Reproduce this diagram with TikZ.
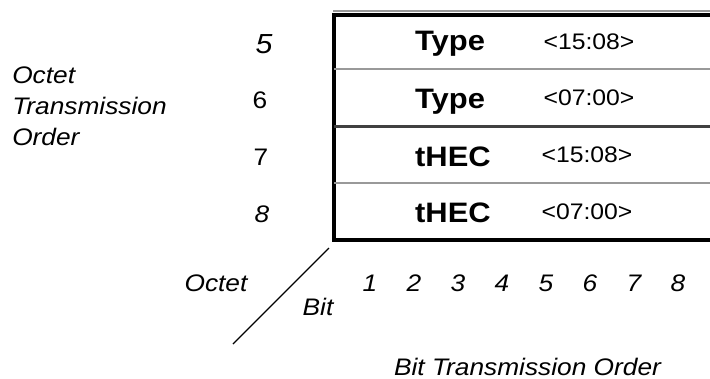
\documentclass[tikz,border=0pt]{standalone}
\usepackage{fontspec}
\setmainfont{Liberation Sans}[FakeStretch=1.1]
\begin{document}
\begin{tikzpicture}[x=0.025cm, y=-0.025cm,
        lbl/.style={font=\fontsize{17pt}{20pt}\selectfont\itshape, inner sep=0pt},
        num/.style={font=\fontsize{17pt}{20pt}\selectfont, inner sep=0pt},
        fld/.style={font=\fontsize{20pt}{24pt}\selectfont\bfseries, anchor=base, inner sep=0pt},
        rng/.style={font=\fontsize{16pt}{19pt}\selectfont, anchor=base, inner sep=0pt},
        grayrule/.style={draw=black!40, line width=0.9pt},
        boldrule/.style={line width=2.5pt}]
        \useasboundingbox (0,0) rectangle (710,378);

        % frame, open to the right
        \draw[grayrule] (333,11) -- (710,11);
        \draw[boldrule] (710,15) -- (334,15) -- (334,240) -- (710,240);
        \draw[grayrule] (334,69) -- (710,69);
        \draw[boldrule, black!75] (334,126.5) -- (710,126.5);
        \draw[grayrule] (334,183) -- (710,183);

        \node[fld] (t1) at (450,50.5) {Type};
        \node[rng] (r1) at (589,49) {<15:08>};
        \node[fld] (t2) at (450,108.5) {Type};
        \node[rng] (r2) at (589,105.5) {<07:00>};
        \node[fld] (t3) at (453,166.5) {tHEC};
        \node[rng] (r3) at (587,162.5) {<15:08>};
        \node[fld] (t4) at (453,222.5) {tHEC};
        \node[rng] (r4) at (587,219.5) {<07:00>};

        \node[lbl, font=\fontsize{19.6pt}{22pt}\selectfont\itshape] (o5) at (264,44) {5};
        \node[num] (o6) at (260,100) {6};
        \node[num] (o7) at (261,157) {7};
        \node[lbl] (o8) at (262,214) {8};

        \node[lbl, anchor=base west] (ot1) at (12,83) {Octet};
        \node[lbl, anchor=base west] (ot2) at (12,114) {Transmission};
        \node[lbl, anchor=base west] (ot3) at (12,145) {Order};

        % corner split and bit numbers
        \coordinate (d1) at (329,248);
        \coordinate (d2) at (233,344);
        \draw[line width=0.9pt] (d1) -- (d2);
        \node[lbl, anchor=base] (oc) at (216,291.5) {Octet};
        \node[lbl, anchor=base] (bt) at (318,315) {Bit};
        \foreach \i in {1,...,8}
            \node[lbl, anchor=base] (b\i) at (326+44*\i,291.5) {\i};
        \node[lbl, anchor=base] (bto) at (527.5,375) {Bit Transmission Order};
\end{tikzpicture}
\end{document}
